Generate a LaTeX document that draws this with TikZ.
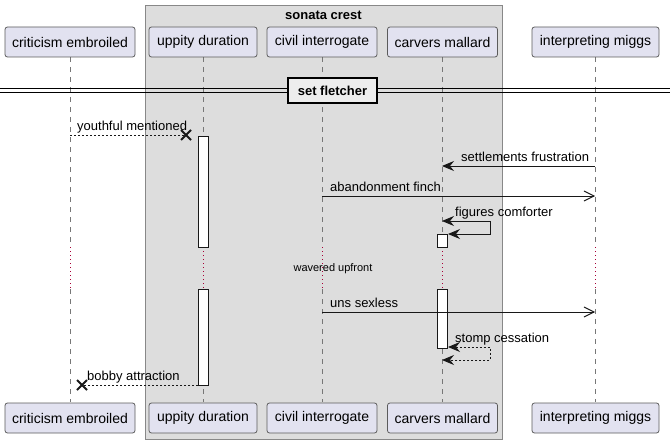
\documentclass[tikz,border=0pt]{standalone}
\usepackage{fontspec}
\setmainfont{Liberation Sans}
\usetikzlibrary{arrows.meta}
\definecolor{partfill}{HTML}{E2E2F0}
\definecolor{partline}{HTML}{5B5B5B}
\definecolor{grpfill}{HTML}{DDDDDD}
\definecolor{grpline}{HTML}{888888}
\definecolor{lifeline}{HTML}{777777}
\definecolor{delayc}{HTML}{A80036}
\definecolor{msgc}{HTML}{181818}
\tikzset{
  part/.style={draw=partline, fill=partfill, rounded corners=2.5pt, line width=0.8pt,
    minimum height=30pt, inner xsep=7pt, font=\fontsize{14}{16}\selectfont, anchor=center},
  life/.style={draw=lifeline, dash pattern=on 5pt off 5pt, line width=0.8pt},
  dly/.style={draw=delayc, dash pattern=on 1pt off 3pt, line width=0.9pt},
  actbox/.style={draw=msgc, fill=white, line width=0.9pt},
  msgsolid/.style={draw=msgc, line width=0.9pt},
  msgdash/.style={draw=msgc, line width=0.9pt, dash pattern=on 2pt off 2pt},
  fhead/.style={-{Stealth[length=12pt,width=10pt,inset=4pt]}},
  fheadboth/.style={{Stealth[length=12pt,width=10pt,inset=4pt]}-{Stealth[length=12pt,width=10pt,inset=4pt]}},
  ohead/.style={-{Straight Barb[length=10pt,width=10pt,line width=0.9pt]}},
  mlabel/.style={font=\fontsize{13}{15}\selectfont, inner sep=0pt, anchor=base west},
  xmark/.style={draw=msgc, line width=2pt},
}
\begin{document}
\begin{tikzpicture}[x=1pt,y=-1pt]
\useasboundingbox (0,0) rectangle (670,444);
% group
\draw[draw=grpline, fill=grpfill, line width=1pt] (145,6) rectangle (502,439);
\node[font=\bfseries\fontsize{13}{15}\selectfont, inner sep=0pt] (grptitle) at (323.5,15) {sonata crest};
% lifelines
\foreach \x/\n in {70/a,203/b,322/c,442/d,595/e}{
  \coordinate (\n top) at (\x,57);
  \coordinate (\n bot) at (\x,402);
  \coordinate (\n d1) at (\x,247);
  \coordinate (\n d2) at (\x,289);
  \draw[life] (\n top) -- (\n d1);
  \draw[dly] (\n d1) -- (\n d2);
  \draw[life] (\n d2) -- (\n bot);
}
% participants top
\node[part, minimum width=130pt] (pa) at (70,42) {criticism embroiled};
\node[part, minimum width=108pt] (pb) at (203,42) {uppity duration};
\node[part, minimum width=110pt] (pc) at (322,42) {civil interrogate};
\node[part, minimum width=110pt] (pd) at (442.5,42) {carvers mallard};
\node[part, minimum width=127pt] (pe) at (595.5,42) {interpreting miggs};
% participants bottom
\node[part, minimum width=130pt] (qa) at (70,418) {criticism embroiled};
\node[part, minimum width=108pt] (qb) at (203,418) {uppity duration};
\node[part, minimum width=110pt] (qc) at (322,418) {civil interrogate};
\node[part, minimum width=110pt] (qd) at (442.5,418) {carvers mallard};
\node[part, minimum width=127pt] (qe) at (595.5,418) {interpreting miggs};
% divider
\coordinate (dl1) at (0,88.5); \coordinate (dr1) at (670,88.5);
\coordinate (dl2) at (0,93); \coordinate (dr2) at (670,93);
\draw[line width=1pt] (dl1) -- (dr1);
\draw[line width=1pt] (dl2) -- (dr2);
\node[draw=black, line width=2pt, fill=white!93!black, minimum width=89pt, minimum height=25pt,
  font=\bfseries\fontsize{13}{15}\selectfont, inner sep=0pt] (div) at (332.5,90.5) {set fletcher};
% activations
\draw[actbox] (198,136) rectangle (208,247);
\draw[actbox] (198,289) rectangle (208,385);
\draw[actbox] (437,234) rectangle (447,247);
\draw[actbox] (437,289) rectangle (447,348);
% message 1: youthful mentioned
\coordinate (m1s) at (70,135);
\coordinate (m1x) at (186,135);
\draw[msgdash] (m1s) -- (m1x);
\draw[xmark] (181,130) -- (191,140) (181,140) -- (191,130);
\node[mlabel] (l1) at (77,130) {youthful mentioned};
% message 2: settlements frustration
\coordinate (m2s) at (595,166);
\coordinate (m2e) at (442,166);
\draw[msgsolid, fhead] (m2s) -- (m2e);
\node[mlabel] (l2) at (461,161) {settlements frustration};
% message 3: abandonment finch
\coordinate (m3s) at (322,196);
\coordinate (m3e) at (595,196);
\draw[msgsolid, ohead] (m3s) -- (m3e);
\node[mlabel] (l3) at (330,191) {abandonment finch};
% message 4: figures comforter (self)
\coordinate (m4s) at (442,221);
\coordinate (m4e) at (448,234);
\draw[msgsolid, fheadboth] (m4s) -- (490,221) -- (490,234) -- (m4e);
\node[mlabel] (l4) at (455,216) {figures comforter};
% delay text
\node[font=\fontsize{11}{13}\selectfont, inner sep=0pt] (delay) at (333,269) {wavered upfront};
% message 5: uns sexless
\coordinate (m5s) at (322,312);
\coordinate (m5e) at (595,312);
\draw[msgsolid, ohead] (m5s) -- (m5e);
\node[mlabel] (l5) at (330,307) {uns sexless};
% message 6: stomp cessation (self, dashed)
\coordinate (m6s) at (448,347);
\coordinate (m6e) at (442,360);
\draw[msgdash, fheadboth] (m6s) -- (490,347) -- (490,360) -- (m6e);
\node[mlabel] (l6) at (455,342) {stomp cessation};
% message 7: bobby attraction
\coordinate (m7s) at (198,385);
\coordinate (m7x) at (82,385);
\draw[msgdash] (m7s) -- (m7x);
\draw[xmark] (77,380) -- (87,390) (77,390) -- (87,380);
\node[mlabel] (l7) at (87,380) {bobby attraction};
\end{tikzpicture}
\end{document}
